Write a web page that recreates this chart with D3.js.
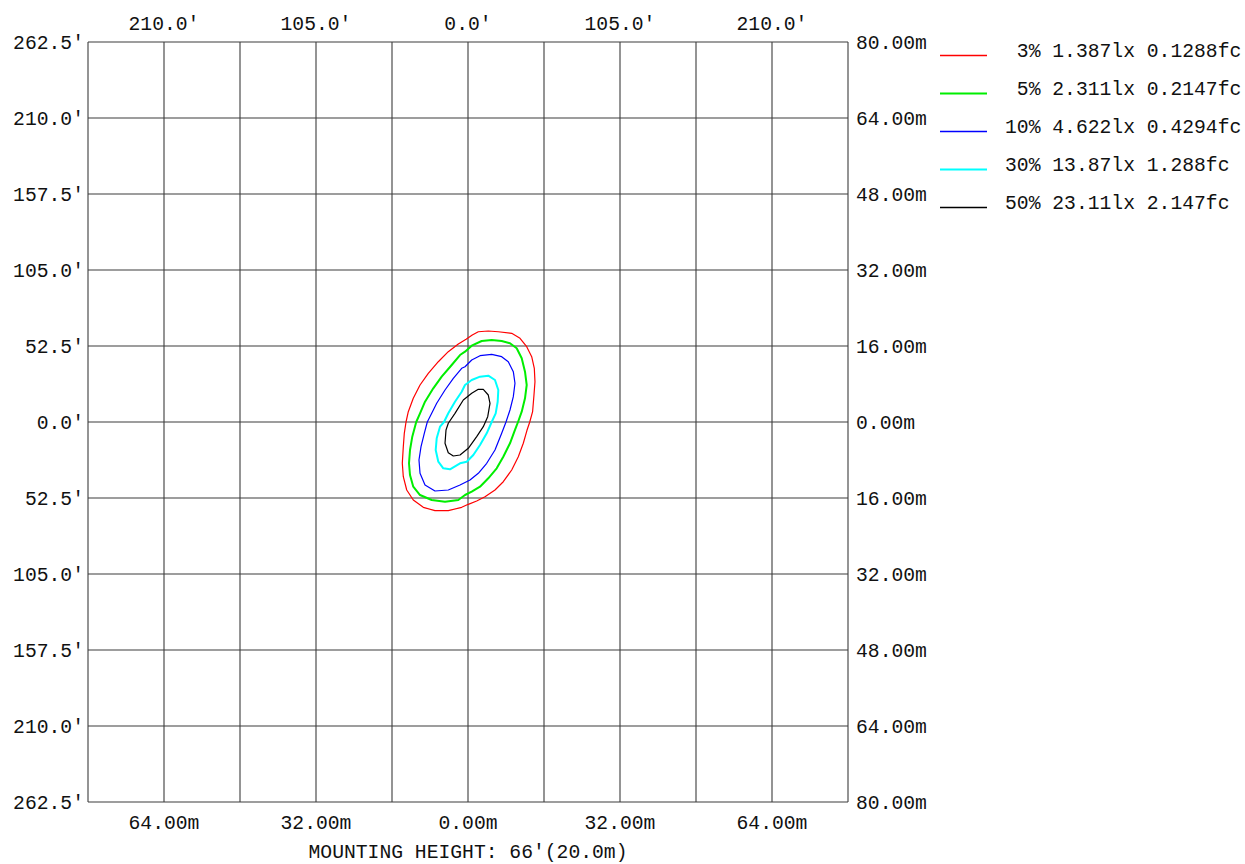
<!DOCTYPE html>
<html>
<head>
<meta charset="utf-8">
<script src="https://cdn.jsdelivr.net/npm/d3@7/dist/d3.min.js"></script>
<style>
  html, body { margin: 0; padding: 0; background: #fff; }
  svg text { font-family: "Liberation Mono", "DejaVu Sans Mono", monospace; font-size: 19.7px; fill: #111; white-space: pre; }
</style>
</head>
<body>
<svg id="chart" width="1245" height="864"></svg>
<script>
// ---- data ----
const gridTicksM = [-80, -64, -48, -32, -16, 0, 16, 32, 48, 64, 80];
const leftLabels = ["262.5'", "210.0'", "157.5'", "105.0'", "52.5'", "0.0'", "52.5'", "105.0'", "157.5'", "210.0'", "262.5'"];
const rightLabels = ["80.00m", "64.00m", "48.00m", "32.00m", "16.00m", "0.00m", "16.00m", "32.00m", "48.00m", "64.00m", "80.00m"];
const topTicksM = [-64, -32, 0, 32, 64];
const topLabels = ["210.0'", "105.0'", "0.0'", "105.0'", "210.0'"];
const bottomLabels = ["64.00m", "32.00m", "0.00m", "32.00m", "64.00m"];
const footerText = "MOUNTING HEIGHT: 66'(20.0m)";

const legendLabels = [" 3% 1.387lx 0.1288fc", " 5% 2.311lx 0.2147fc", "10% 4.622lx 0.4294fc", "30% 13.87lx 1.288fc", "50% 23.11lx 2.147fc"];
const seriesColors = ["#ff0000", "#00ee00", "#0000ff", "#00ffff", "#000000"];

// contour polylines, metres (x east, y north)
const contour3 = [[-0.4,17.4],[0.9,18.3],[2.17,19.0],[4.27,19.16],[6.38,19.0],[9.2,18.67],[10.95,17.62],[12.36,15.85],[13.41,13.75],[13.96,11.31],[14.1,8.48],[13.89,5.68],[13.6,2.17],[13.0,0],[12.4,-1.8],[11.64,-4.48],[10.59,-7.31],[9.2,-10.1],[7.43,-12.57],[5.68,-14.32],[3.58,-15.73],[1.83,-16.63],[0.06,-17.33],[-1.33,-17.96],[-4.15,-18.67],[-6.95,-18.67],[-9.41,-17.96],[-11.52,-16.42],[-12.9,-14.32],[-13.62,-11.52],[-13.83,-8.69],[-13.62,-5.2],[-13.41,-2.38],[-13.05,0],[-12.57,2.17],[-11.52,4.99],[-10.1,7.79],[-8.36,10.25],[-6.25,12.69],[-4.15,14.8],[-2.04,16.4]];
const contour5 = [[-0.63,14.8],[0.78,16.06],[2.88,17.05],[4.99,17.26],[7.09,17.05],[8.84,16.57],[10.25,15.52],[11.31,13.41],[12.0,10.59],[12.36,7.79],[12.0,4.99],[11.31,2.17],[10.53,0],[9.89,-1.68],[8.84,-4.48],[7.43,-7.31],[6.04,-9.75],[4.27,-11.85],[2.53,-13.62],[0.78,-14.67],[-0.63,-15.37],[-2.04,-16.42],[-4.84,-16.78],[-7.64,-16.42],[-10.1,-15.37],[-11.52,-13.62],[-12.21,-11.16],[-12.42,-8.69],[-12.21,-5.89],[-11.73,-3.09],[-10.9,0],[-10.1,1.83],[-9.05,4.27],[-7.31,7.09],[-5.54,9.54],[-3.43,12.0],[-1.68,14.1]];
const contour10 = [[-0.63,11.64],[0.78,13.05],[2.53,13.96],[4.99,14.25],[7.09,13.75],[8.48,12.69],[9.54,10.59],[9.89,8.15],[9.54,5.33],[8.84,2.53],[8.0,0],[7.09,-2.38],[5.68,-5.89],[3.94,-8.69],[2.17,-10.8],[0.42,-12.21],[-1.68,-13.26],[-4.15,-14.32],[-6.95,-14.53],[-9.05,-13.26],[-10.1,-10.8],[-10.32,-8.0],[-9.89,-5.2],[-9.2,-2.38],[-8.57,0],[-7.64,1.83],[-6.59,3.94],[-4.84,6.74],[-3.09,9.2],[-1.33,11.31]];
const contour30 = [[-0.63,7.79],[0.78,8.84],[2.53,9.54],[4.27,9.75],[5.68,8.84],[6.38,6.74],[6.25,4.27],[5.83,1.83],[4.99,0],[3.94,-2.38],[2.53,-4.84],[1.12,-6.95],[-0.27,-8.36],[-1.68,-8.69],[-3.79,-9.96],[-5.2,-9.75],[-6.25,-8.36],[-6.8,-5.89],[-6.59,-3.43],[-5.89,-0.99],[-5.05,0],[-4.15,1.83],[-2.74,4.27],[-1.33,6.38]];
const contour50 = [[3.22,6.88],[4.27,5.68],[4.63,3.94],[4.15,1.12],[3.22,-0.99],[1.83,-3.09],[0.06,-5.54],[-1.68,-6.95],[-3.09,-7.16],[-4.15,-6.46],[-4.84,-4.48],[-4.63,-1.68],[-4.15,-0.27],[-2.74,1.83],[-0.99,4.63],[0.78,6.04],[2.17,6.88]];
const contours = [contour3, contour5, contour10, contour30, contour50];
const strokeWidths = [1.2, 2, 1.2, 2, 1.2];
const legendWidths = [1.3, 2.2, 1.6, 2.2, 1.6];

// ---- drawing ----
const svg = d3.select("#chart");
const x = d3.scaleLinear().domain([-80, 80]).range([88, 848]);
const y = d3.scaleLinear().domain([-80, 80]).range([802, 42]);
const yTicksDesc = gridTicksM.slice().reverse(); // top to bottom

const grid = svg.append("g").attr("stroke", "#3c3c3c").attr("stroke-width", 1.1);
grid.selectAll("line.v").data(gridTicksM).join("line")
  .attr("x1", d => x(d)).attr("x2", d => x(d)).attr("y1", y(80)).attr("y2", y(-80));
grid.selectAll("line.h").data(gridTicksM).join("line")
  .attr("y1", d => y(d)).attr("y2", d => y(d)).attr("x1", x(-80)).attr("x2", x(80));

// left feet labels
svg.append("g").selectAll("text").data(yTicksDesc).join("text")
  .attr("x", 84).attr("y", d => y(d) + 7).attr("text-anchor", "end")
  .text((d, i) => leftLabels[i]);
// right metre labels
svg.append("g").selectAll("text").data(yTicksDesc).join("text")
  .attr("x", 856).attr("y", d => y(d) + 7).attr("text-anchor", "start")
  .text((d, i) => rightLabels[i]);
// top feet labels
svg.append("g").selectAll("text").data(topTicksM).join("text")
  .attr("x", d => x(d)).attr("y", 30).attr("text-anchor", "middle")
  .text((d, i) => topLabels[i]);
// bottom metre labels
svg.append("g").selectAll("text").data(topTicksM).join("text")
  .attr("x", d => x(d)).attr("y", 829).attr("text-anchor", "middle")
  .text((d, i) => bottomLabels[i]);
svg.append("text").attr("x", x(0)).attr("y", 858).attr("text-anchor", "middle").text(footerText);

// contours
const line = d3.line().x(d => x(d[0])).y(d => y(d[1])).curve(d3.curveLinearClosed);
svg.append("g").attr("fill", "none").selectAll("path").data(contours).join("path")
  .attr("d", d => line(d))
  .attr("stroke", (d, i) => seriesColors[i])
  .attr("stroke-width", (d, i) => strokeWidths[i])
  .attr("stroke-linejoin", "round");

// legend
const lg = svg.append("g");
const legendY = d3.scaleLinear().domain([0, 4]).range([55.5, 207.5]);
lg.selectAll("line").data(legendLabels).join("line")
  .attr("x1", 940).attr("x2", 987)
  .attr("y1", (d, i) => legendY(i)).attr("y2", (d, i) => legendY(i))
  .attr("stroke", (d, i) => seriesColors[i])
  .attr("stroke-width", (d, i) => legendWidths[i]);
lg.selectAll("text").data(legendLabels).join("text")
  .attr("x", 1005).attr("y", (d, i) => legendY(i) + 1.5)
  .text(d => d);
</script>
</body>
</html>
